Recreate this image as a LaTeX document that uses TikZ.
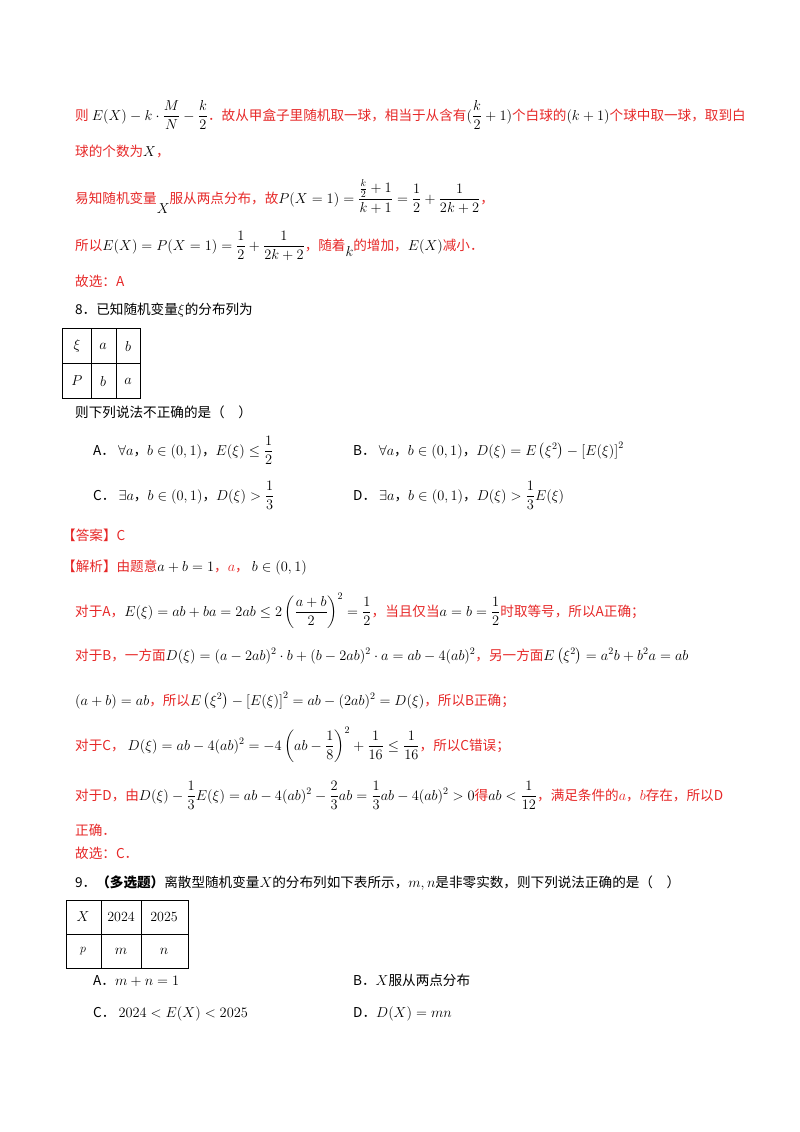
\documentclass[tikz,border=0pt]{standalone}
\usepackage{fontspec}
\usepackage{amsmath,amssymb}
\newfontfamily\cjk{Noto Sans CJK SC}
\definecolor{rd}{RGB}{230,40,40}
\newcommand{\R}[1]{\textcolor{rd}{#1}}
\begin{document}
\begin{tikzpicture}[x=1pt,y=-1pt,
 ln/.style={anchor=base west,inner sep=0pt,font=\cjk\fontsize{13.6}{16}\selectfont},
 tb/.style={draw,line width=0.8pt}]
\useasboundingbox (0,0) rectangle (800,1132);
\node[ln] (l1) at (75,120) {\R{则} $E(X)-k\cdot\dfrac{M}{N}-\dfrac{k}{2}$\R{．故从甲盒子里随机取一球，相当于从含有}$(\dfrac{k}{2}+1)$\R{个白球的}$(k+1)$\R{个球中取一球，取到白}};
\node[ln] (l2) at (75,156) {\R{球的个数为}$X$\R{，}};
\node[ln] (l3) at (75,203) {\R{易知随机变量}\raisebox{-10pt}{$X$}\R{服从两点分布，故}$P(X=1)=\dfrac{\frac{k}{2}+1}{k+1}=\dfrac12+\dfrac{1}{2k+2}$\R{，}};
\node[ln] (l4) at (75,250) {\R{所以}$E(X)=P(X=1)=\dfrac12+\dfrac{1}{2k+2}$\R{，随着}\raisebox{-6pt}{$k$}\R{的增加，}$E(X)$\R{减小．}};
\node[ln] (l5) at (75,286) {\R{故选：A}};
\node[ln] (q8) at (75,314) {8．已知随机变量$\xi$的分布列为};
\draw[tb] (62,328) rectangle (140,398);
\draw[tb] (62,363) -- (140,363) (91,328) -- (91,398) (116,328) -- (116,398);
\node[font=\fontsize{14}{16}\selectfont] (t1) at (77,346) {$\xi$};
\node[font=\fontsize{14}{16}\selectfont] (t2) at (103,346) {$a$};
\node[font=\fontsize{14}{16}\selectfont] (t3) at (128,346) {$b$};
\node[font=\fontsize{14}{16}\selectfont] (t4) at (77,381) {$P$};
\node[font=\fontsize{14}{16}\selectfont] (t5) at (103,381) {$b$};
\node[font=\fontsize{14}{16}\selectfont] (t6) at (128,381) {$a$};
\node[ln] (q8b) at (75,417) {则下列说法不正确的是（\quad）};
\node[ln] (oA) at (93,455) {A．\ $\forall a$，$b\in(0,1)$，$E(\xi)\le\dfrac12$};
\node[ln] (oB) at (353,455) {B．\ $\forall a$，$b\in(0,1)$，$D(\xi)=E\left(\xi^2\right)-\left[E(\xi)\right]^2$};
\node[ln] (oC) at (93,500) {C．\ $\exists a$，$b\in(0,1)$，$D(\xi)>\dfrac13$};
\node[ln] (oD) at (353,500) {D．\ $\exists a$，$b\in(0,1)$，$D(\xi)>\dfrac13E(\xi)$};
\node[ln] (ans) at (62,540) {\R{【答案】C}};
\node[ln] (jx) at (62,571) {\R{【解析】由题意}$a+b=1$\R{，}\R{$a$，}\ $b\in(0,1)$};
\node[ln] (fa) at (75,616) {\R{对于A，}$E(\xi)=ab+ba=2ab\le2\left(\dfrac{a+b}{2}\right)^2=\dfrac12$\R{，当且仅当}$a=b=\dfrac12$\R{时取等号，所以A正确；}};
\node[ln] (fb) at (75,660) {\R{对于B，一方面}$D(\xi)=(a-2ab)^2\cdot b+(b-2ab)^2\cdot a=ab-4(ab)^2$\R{，另一方面}$E\left(\xi^2\right)=a^2b+b^2a=ab$};
\node[ln] (fb2) at (75,705) {$(a+b)=ab$\R{，所以}$E\left(\xi^2\right)-\left[E(\xi)\right]^2=ab-(2ab)^2=D(\xi)$\R{，所以B正确；}};
\node[ln] (fc) at (75,750) {\R{对于C，}\ $D(\xi)=ab-4(ab)^2=-4\left(ab-\dfrac18\right)^2+\dfrac1{16}\le\dfrac1{16}$\R{，所以C错误；}};
\node[ln] (fd) at (75,800) {\R{对于D，由}$D(\xi)-\dfrac13E(\xi)=ab-4(ab)^2-\dfrac23ab=\dfrac13ab-4(ab)^2>0$\R{得}$ab<\dfrac1{12}$\R{，满足条件的$a$，$b$存在，所以D}};
\node[ln] (fd2) at (75,835) {\R{正确．}};
\node[ln] (gx) at (75,858) {\R{故选：C．}};
\node[ln] (q9) at (75,887) {9．\textbf{（多选题）}离散型随机变量$X$的分布列如下表所示，$m,n$是非零实数，则下列说法正确的是（\quad）};
\draw[tb] (66,900) rectangle (188,968);
\draw[tb] (66,934) -- (188,934) (101,900) -- (101,968) (141,900) -- (141,968);
\node[font=\fontsize{14}{16}\selectfont] (s1) at (83,917) {$X$};
\node[font=\fontsize{14}{16}\selectfont] (s2) at (121,917) {2024};
\node[font=\fontsize{14}{16}\selectfont] (s3) at (164,917) {2025};
\node[font=\fontsize{12}{14}\selectfont] (s4) at (83,951) {$p$};
\node[font=\fontsize{14}{16}\selectfont] (s5) at (121,951) {$m$};
\node[font=\fontsize{14}{16}\selectfont] (s6) at (164,951) {$n$};
\node[ln] (pA) at (93,985) {A．$m+n=1$};
\node[ln] (pB) at (353,985) {B．$X$服从两点分布};
\node[ln] (pC) at (93,1017) {C．\ $2024<E(X)<2025$};
\node[ln] (pD) at (353,1017) {D．$D(X)=mn$};
\end{tikzpicture}
\end{document}
